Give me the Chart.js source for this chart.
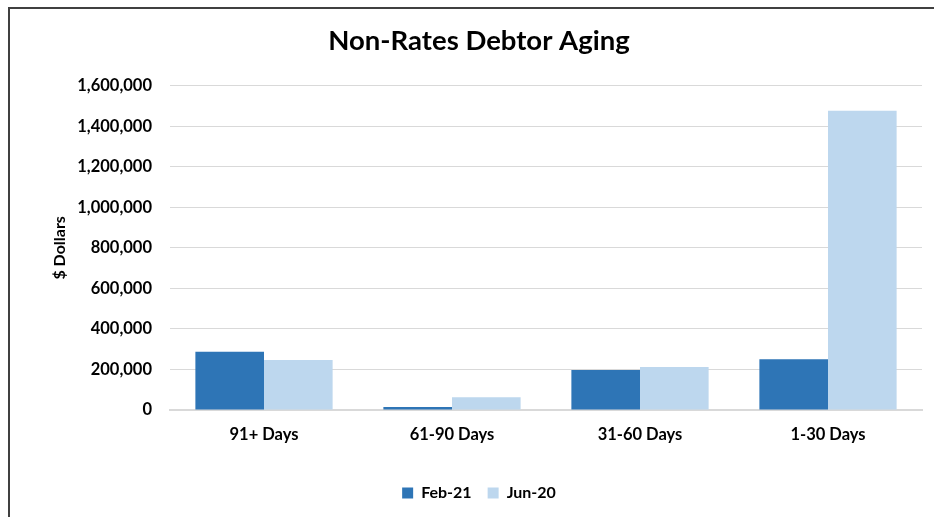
<!DOCTYPE html>
<html>
<head>
<meta charset="utf-8">
<script src="https://cdn.jsdelivr.net/npm/chart.js@4"></script>
<style>
  html, body { margin: 0; padding: 0; background: #fff; overflow: hidden; }
  #wrap { position: relative; width: 934px; height: 517px; }
  #frame { position: absolute; left: 8px; top: 7px; width: 2000px; height: 2000px;
           border-left: 2px solid #404040; border-top: 2px solid #404040; pointer-events: none; }
  canvas { position: absolute; left: 0; top: 0; }
</style>
</head>
<body>
<div id="wrap">
  <canvas id="c" width="934" height="517"></canvas>
  <div id="frame"></div>
</div>
<script>
const categories = ['91+ Days', '61-90 Days', '31-60 Days', '1-30 Days'];
const seriesNames = ['Feb-21', 'Jun-20'];
const feb21 = [288000, 15000, 197000, 250000];
const jun20 = [247000, 63000, 212000, 1476000];
const yTicks = [0, 200000, 400000, 600000, 800000, 1000000, 1200000, 1400000, 1600000];

const FONT = 'Lato, "Liberation Sans", sans-serif';

new Chart(document.getElementById('c'), {
  type: 'bar',
  data: {
    labels: categories,
    datasets: [
      { label: seriesNames[0], data: feb21, backgroundColor: '#2E75B6', borderWidth: 0,
        categoryPercentage: 0.73, barPercentage: 1.0 },
      { label: seriesNames[1], data: jun20, backgroundColor: '#BDD7EE', borderWidth: 0,
        categoryPercentage: 0.73, barPercentage: 1.0 }
    ]
  },
  options: {
    responsive: false,
    animation: false,
    layout: { padding: { left: 36, right: 12, top: 0, bottom: 6 } },
    plugins: {
      title: {
        display: true,
        text: 'Non-Rates Debtor Aging',
        color: '#000',
        font: { family: FONT, size: 27.5, weight: 'bold' },
        padding: { top: 24.5, bottom: 28.2 }
      },
      legend: {
        position: 'bottom',
        labels: {
          color: '#000',
          font: { family: FONT, size: 16, weight: 'bold' },
          boxWidth: 11, boxHeight: 11, padding: 16
        }
      },
      tooltip: { enabled: false }
    },
    scales: {
      x: {
        grid: { display: false, drawTicks: false },
        border: { display: true, color: '#D9D9D9', width: 2 },
        ticks: { color: '#000', font: { family: FONT, size: 16.5, weight: 'bold' }, padding: 15 },
        afterFit: (s) => { s.height = 59; }
      },
      y: {
        min: 0, max: 1600000,
        afterBuildTicks: (s) => { s.ticks = yTicks.map(v => ({ value: v })); },
        grid: { color: '#D9D9D9', lineWidth: 1, drawTicks: false },
        border: { display: false },
        ticks: {
          color: '#000', padding: 18,
          font: { family: FONT, size: 16.5, weight: 'bold' },
          callback: (v) => v.toLocaleString('en-US')
        },
        title: {
          display: true, text: '$ Dollars', color: '#000',
          font: { family: FONT, size: 16, weight: 'bold' },
          padding: { top: 14.5, bottom: 0 }
        },
        afterFit: (s) => { s.width = 134; }
      }
    }
  }
});
</script>
</body>
</html>
